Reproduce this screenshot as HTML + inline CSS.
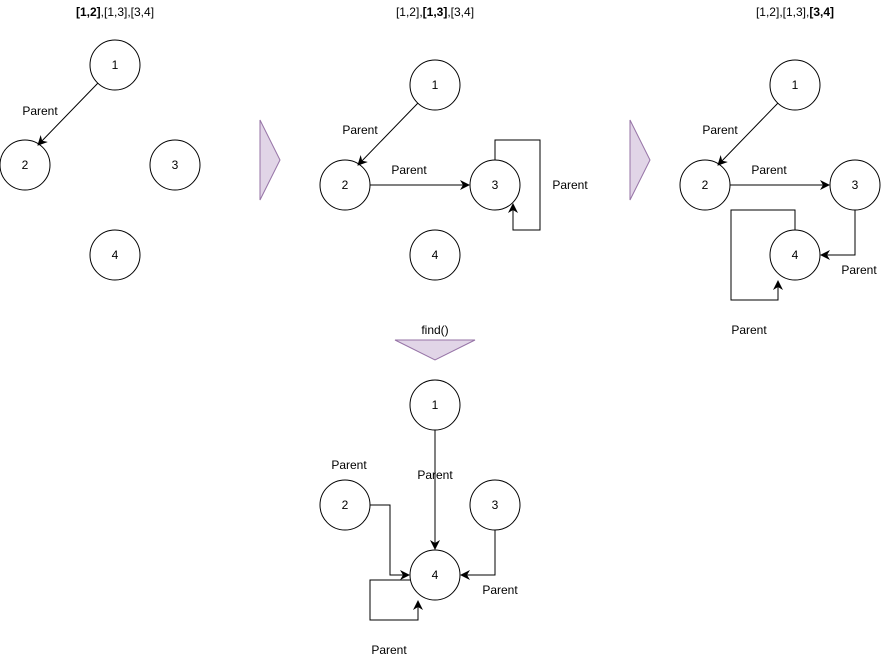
<!DOCTYPE html>
<html><head><meta charset="utf-8"><style>
html,body{margin:0;padding:0;background:#fff;}
svg{display:block;font-family:"Liberation Sans",sans-serif;font-size:12px;}
</style></head><body>
<svg width="881" height="661" viewBox="0 0 881 661" xmlns="http://www.w3.org/2000/svg">
<defs>
<marker id="a" markerWidth="10" markerHeight="10" refX="9" refY="5" orient="auto" markerUnits="userSpaceOnUse">
<path d="M0,0 L10,5 L0,10 L3,5 Z" fill="#000"/>
</marker>
</defs>
<g fill="#fff" stroke="#000" stroke-width="1">
<circle cx="115" cy="65" r="25"/><circle cx="25" cy="165" r="25"/><circle cx="175" cy="165" r="25"/><circle cx="115" cy="255" r="25"/>
<circle cx="435" cy="85" r="25"/><circle cx="345" cy="185" r="25"/><circle cx="495" cy="185" r="25"/><circle cx="435" cy="255" r="25"/>
<circle cx="795" cy="85" r="25"/><circle cx="705" cy="185" r="25"/><circle cx="855" cy="185" r="25"/><circle cx="795" cy="255" r="25"/>
<circle cx="435" cy="405" r="25"/><circle cx="345" cy="505" r="25"/><circle cx="495" cy="505" r="25"/><circle cx="435" cy="575" r="25"/>
</g>
<g fill="#e1d5e7" stroke="#9673a6">
<polygon points="260,120 280,160 260,200"/>
<polygon points="630,120 650,160 630,200"/>
<polygon points="395,340 475,340 435,360"/>
</g>
<g fill="none" stroke="#000" stroke-width="1" marker-end="url(#a)">
<line x1="98" y1="83" x2="38" y2="145"/>
<line x1="418" y1="103" x2="358" y2="165"/>
<line x1="370" y1="185" x2="469" y2="185"/>
<path d="M495,160 V140 H540 V230 H513 V204"/>
<line x1="778" y1="103" x2="718" y2="165"/>
<line x1="730" y1="185" x2="829" y2="185"/>
<path d="M855,210 V255 H821"/>
<path d="M795,230 V210 H731 V300 H778 V281"/>
<line x1="435" y1="430" x2="435" y2="549"/>
<path d="M370,505 H390 V575 H409"/>
<path d="M495,530 V575 H461"/>
<path d="M410,580 H370 V620 H418 V601"/>
</g>
<g fill="#000" text-anchor="middle">
<text x="115" y="16"><tspan font-weight="bold">[1,2]</tspan>,[1,3],[3,4]</text>
<text x="435" y="16">[1,2],<tspan font-weight="bold">[1,3]</tspan>,[3,4]</text>
<text x="795" y="16">[1,2],[1,3],<tspan font-weight="bold">[3,4]</tspan></text>
<text x="115" y="69">1</text><text x="25" y="169">2</text><text x="175" y="169">3</text><text x="115" y="259">4</text>
<text x="435" y="89">1</text><text x="345" y="189">2</text><text x="495" y="189">3</text><text x="435" y="259">4</text>
<text x="795" y="89">1</text><text x="705" y="189">2</text><text x="855" y="189">3</text><text x="795" y="259">4</text>
<text x="435" y="409">1</text><text x="345" y="509">2</text><text x="495" y="509">3</text><text x="435" y="579">4</text>
<text x="40" y="115">Parent</text>
<text x="360" y="134">Parent</text>
<text x="409" y="174">Parent</text>
<text x="570" y="189">Parent</text>
<text x="720" y="134">Parent</text>
<text x="769" y="174">Parent</text>
<text x="859" y="274">Parent</text>
<text x="749" y="334">Parent</text>
<text x="435" y="334">find()</text>
<text x="349" y="469">Parent</text>
<text x="435" y="479">Parent</text>
<text x="500" y="594">Parent</text>
<text x="389" y="654">Parent</text>
</g>
</svg>
</body></html>
